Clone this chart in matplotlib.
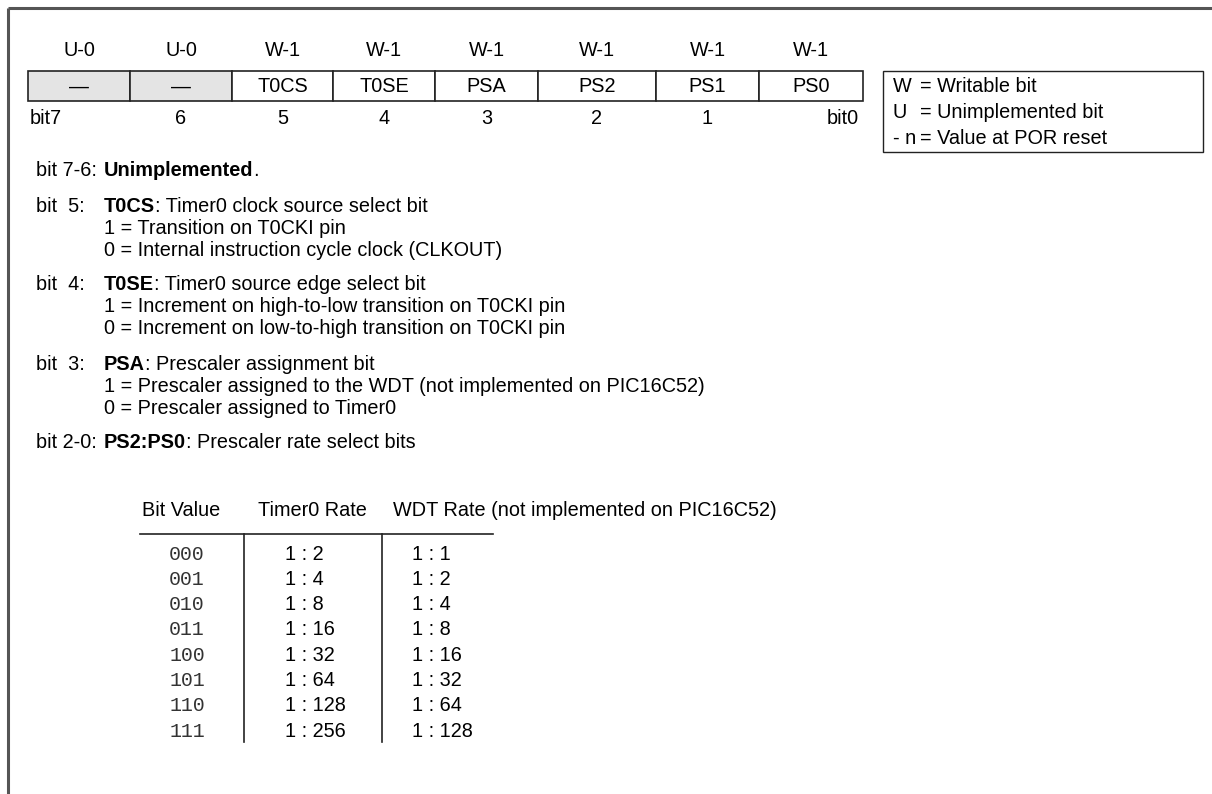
import matplotlib
matplotlib.use("Agg")
import matplotlib.pyplot as plt
from matplotlib.patches import Rectangle

# ---------------- data ----------------
access_labels = ["U-0", "U-0", "W-1", "W-1", "W-1", "W-1", "W-1", "W-1"]
bit_names = ["—", "—", "T0CS", "T0SE", "PSA", "PS2", "PS1", "PS0"]
bit_numbers = ["bit7", "6", "5", "4", "3", "2", "1", "bit0"]
unimplemented = [True, True, False, False, False, False, False, False]

legend_keys = ["W", "U", "- n"]
legend_desc = ["= Writable bit", "= Unimplemented bit", "= Value at POR reset"]

desc_labels = ["bit 7-6:", "bit  5:", "bit  4:", "bit  3:", "bit 2-0:"]
desc_bold = ["Unimplemented", "T0CS", "T0SE", "PSA", "PS2:PS0"]
desc_rest = [".", ": Timer0 clock source select bit", ": Timer0 source edge select bit",
             ": Prescaler assignment bit", ": Prescaler rate select bits"]
desc_lines = [
    [],
    ["1 = Transition on T0CKI pin", "0 = Internal instruction cycle clock (CLKOUT)"],
    ["1 = Increment on high-to-low transition on T0CKI pin",
     "0 = Increment on low-to-high transition on T0CKI pin"],
    ["1 = Prescaler assigned to the WDT (not implemented on PIC16C52)",
     "0 = Prescaler assigned to Timer0"],
    [],
]

table_headers = ["Bit Value", "Timer0 Rate", "WDT Rate (not implemented on PIC16C52)"]
bit_values = ["000", "001", "010", "011", "100", "101", "110", "111"]
timer0_rates = ["1 : 2", "1 : 4", "1 : 8", "1 : 16", "1 : 32", "1 : 64", "1 : 128", "1 : 256"]
wdt_rates = ["1 : 1", "1 : 2", "1 : 4", "1 : 8", "1 : 16", "1 : 32", "1 : 64", "1 : 128"]

# ---------------- layout ----------------
FONT = "Liberation Sans"
MONO = "Liberation Mono"
FS = 14.3
cell_edges = [28, 130, 232, 333, 435, 538, 656, 759, 863]
cell_top, cell_bot = 71, 101

fig = plt.figure(figsize=(12.12, 7.94), dpi=100)
ax = fig.add_axes([0, 0, 1, 1])
ax.set_xlim(0, 1212)
ax.set_ylim(794, 0)
ax.axis("off")

# outer frame (top and left visible)
ax.plot([8, 1212], [8, 8], color="#555555", lw=2.2, solid_capstyle="butt")
ax.plot([8, 8], [8, 794], color="#555555", lw=2.2, solid_capstyle="butt")

# register cells
for i in range(8):
    x0, x1 = cell_edges[i], cell_edges[i + 1]
    fc = "#e4e4e4" if unimplemented[i] else "white"
    ax.add_patch(Rectangle((x0, cell_top), x1 - x0, cell_bot - cell_top,
                           facecolor=fc, edgecolor="#222222", lw=1.2))
    cx = (x0 + x1) / 2
    ax.text(cx, 50, access_labels[i], ha="center", va="center", fontsize=FS, family=FONT)
    ax.text(cx, (cell_top + cell_bot) / 2 + 1, bit_names[i], ha="center", va="center",
            fontsize=FS, family=FONT)
    if i == 0:
        ax.text(x0 + 2, 118, bit_numbers[i], ha="left", va="center", fontsize=FS, family=FONT)
    elif i == 7:
        ax.text(x1 - 4, 118, bit_numbers[i], ha="right", va="center", fontsize=FS, family=FONT)
    else:
        ax.text(cx, 118, bit_numbers[i], ha="center", va="center", fontsize=FS, family=FONT)

# legend box
ax.add_patch(Rectangle((883, 71), 1203 - 883, 152 - 71, facecolor="white",
                       edgecolor="#222222", lw=1.0))
for k, (key, d) in enumerate(zip(legend_keys, legend_desc)):
    y = 87 + k * 26
    ax.text(893, y, key, ha="left", va="center", fontsize=FS, family=FONT)
    ax.text(920, y, d, ha="left", va="center", fontsize=FS, family=FONT)

# descriptions
group_y = [171, 206, 285, 364, 443]
for lab, b, rest, lines, gy in zip(desc_labels, desc_bold, desc_rest, desc_lines, group_y):
    ax.text(36, gy, lab, ha="left", va="center", fontsize=FS, family=FONT)
    tb = ax.text(104, gy, b, ha="left", va="center", fontsize=FS, family=FONT, weight="bold")
    ax.annotate(rest, xy=(1, 0), xycoords=tb, ha="left", va="bottom",
                fontsize=FS, family=FONT)
    for j, ln in enumerate(lines):
        ax.text(104, gy + 22 * (j + 1), ln, ha="left", va="center", fontsize=FS, family=FONT)

# prescaler table
ax.text(142, 511, table_headers[0], ha="left", va="center", fontsize=FS, family=FONT)
ax.text(258, 511, table_headers[1], ha="left", va="center", fontsize=FS, family=FONT)
ax.text(393, 511, table_headers[2], ha="left", va="center", fontsize=FS, family=FONT)
ax.plot([140, 493], [534, 534], color="#222222", lw=1.2)
ax.plot([244, 244], [534, 742], color="#222222", lw=1.2)
ax.plot([382, 382], [534, 742], color="#222222", lw=1.2)
for r, (bv, t0, wd) in enumerate(zip(bit_values, timer0_rates, wdt_rates)):
    y = 554 + r * 25.3
    ax.text(187, y, bv, ha="center", va="center", fontsize=FS, family=MONO, color="#333333")
    ax.text(285, y, t0, ha="left", va="center", fontsize=FS, family=FONT)
    ax.text(412, y, wd, ha="left", va="center", fontsize=FS, family=FONT)

fig.savefig("out.png", dpi=100, facecolor="white")
